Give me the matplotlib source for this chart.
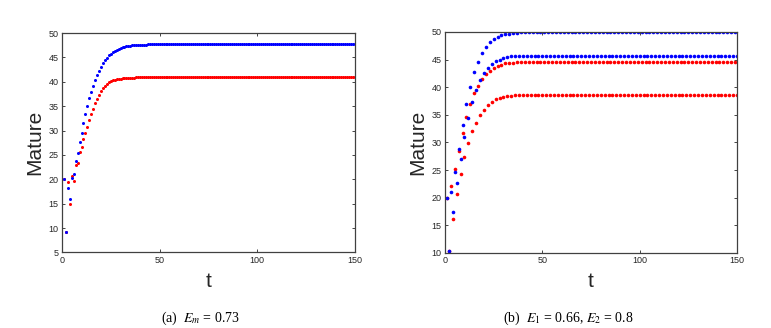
import numpy as np
import matplotlib
matplotlib.use('Agg')
import matplotlib.pyplot as plt

plt.rcParams['font.family'] = ['Liberation Sans', 'DejaVu Sans']
plt.rcParams['mathtext.fontset'] = 'stix'

# ---- data ----
t = np.arange(1, 151)

# (a) single harvesting rate: transient then plateau
a_blue_head = [20.0, 9.2, 18.2, 16.0, 20.2, 21.1, 23.8, 25.5, 27.6, 29.6,
               31.5, 33.3, 35.0, 36.6, 38.0, 39.2, 40.3, 41.4, 42.3, 43.1,
               43.8, 44.4, 44.9, 45.4, 45.8, 46.1, 46.4, 46.6, 46.8, 47.0,
               47.1, 47.2, 47.3, 47.35, 47.4, 47.45, 47.5, 47.55, 47.6, 47.6,
               47.65, 47.65, 47.65]
a_blue_plateau = 47.7
a_red_head = [20.0, 9.3, 19.5, 15.0, 20.7, 19.6, 23.0, 23.3, 25.6, 26.6,
              28.2, 29.5, 30.8, 32.1, 33.4, 34.5, 35.6, 36.5, 37.4, 38.1,
              38.7, 39.2, 39.6, 39.9, 40.1, 40.3, 40.4, 40.5, 40.6, 40.65,
              40.7, 40.75, 40.8, 40.8, 40.85, 40.85, 40.85]
a_red_plateau = 40.9

# (b) alternating harvesting rates: odd/even t settle on two levels
b_blue_head = [20.0, 10.4, 21.0, 17.5, 24.6, 22.7, 28.9, 27.0, 33.1, 31.0,
               37.0, 34.5, 40.1, 37.4, 42.7, 39.5, 44.6, 41.3, 46.1, 42.5,
               47.2, 43.4, 48.1, 44.2, 48.7, 44.7, 49.1, 45.0, 49.4, 45.3,
               49.6, 45.5, 49.7, 45.6, 49.8, 45.65, 49.85, 45.7]
b_blue_plateau = (49.9, 45.7)   # odd t, even t
b_red_head = [20.0, 10.4, 22.2, 16.1, 25.2, 20.6, 28.5, 24.3, 31.7, 27.3,
              34.6, 29.9, 36.9, 32.0, 38.9, 33.6, 40.3, 34.9, 41.4, 35.9,
              42.3, 36.8, 42.9, 37.4, 43.4, 37.8, 43.8, 38.1, 44.1, 38.3,
              44.3, 38.4, 44.4, 38.45, 44.45, 38.5]
b_red_plateau = (44.5, 38.5)


def fill_flat(head, level):
    return np.array(head + [level] * (len(t) - len(head)))


def fill_alt(head, levels):
    rest = [levels[(k + 1) % 2] for k in range(len(head) + 1, len(t) + 1)]
    return np.array(head + rest)


a_blue = fill_flat(a_blue_head, a_blue_plateau)
a_red = fill_flat(a_red_head, a_red_plateau)
b_blue = fill_alt(b_blue_head, b_blue_plateau)
b_red = fill_alt(b_red_head, b_red_plateau)

fig = plt.figure(figsize=(7.71, 3.28), dpi=100)
ax1 = fig.add_axes([0.0804, 0.2302, 0.380, 0.669])
ax2 = fig.add_axes([0.5772, 0.2287, 0.3787, 0.674])

spine_col = '#404040'
for ax, red, blue, ylim, ms in [(ax1, a_red, a_blue, (5, 50), 2.2),
                                (ax2, b_red, b_blue, (10, 50), 2.6)]:
    ax.plot(t, red, 'o', color='#ff0000', markersize=ms, markeredgewidth=0)
    ax.plot(t, blue, 'o', color='#0000ff', markersize=ms, markeredgewidth=0)
    ax.set_xlim(0, 150)
    ax.set_ylim(*ylim)
    ax.set_xticks([0, 50, 100, 150])
    ax.set_yticks(np.arange(ylim[0], 51, 5))
    ax.tick_params(direction='in', length=2.5, width=0.6, labelsize=6.5,
                   colors='#262626', top=True, right=True, pad=2.5)
    for s in ax.spines.values():
        s.set_color(spine_col)
        s.set_linewidth(0.9)
    ax.set_xlabel('t', fontsize=15, color='#262626', labelpad=5)
    ax.set_ylabel('Mature', fontsize=15, color='#262626', labelpad=3)

fig.text(0.260, 0.02, r'(a)  $E_m$ = 0.73', fontsize=10, ha='center',
         family='Liberation Serif')
fig.text(0.737, 0.02, r'(b)  $E_1$ = 0.66, $E_2$ = 0.8', fontsize=10,
         ha='center', family='Liberation Serif')

fig.savefig('out.png', dpi=100)
